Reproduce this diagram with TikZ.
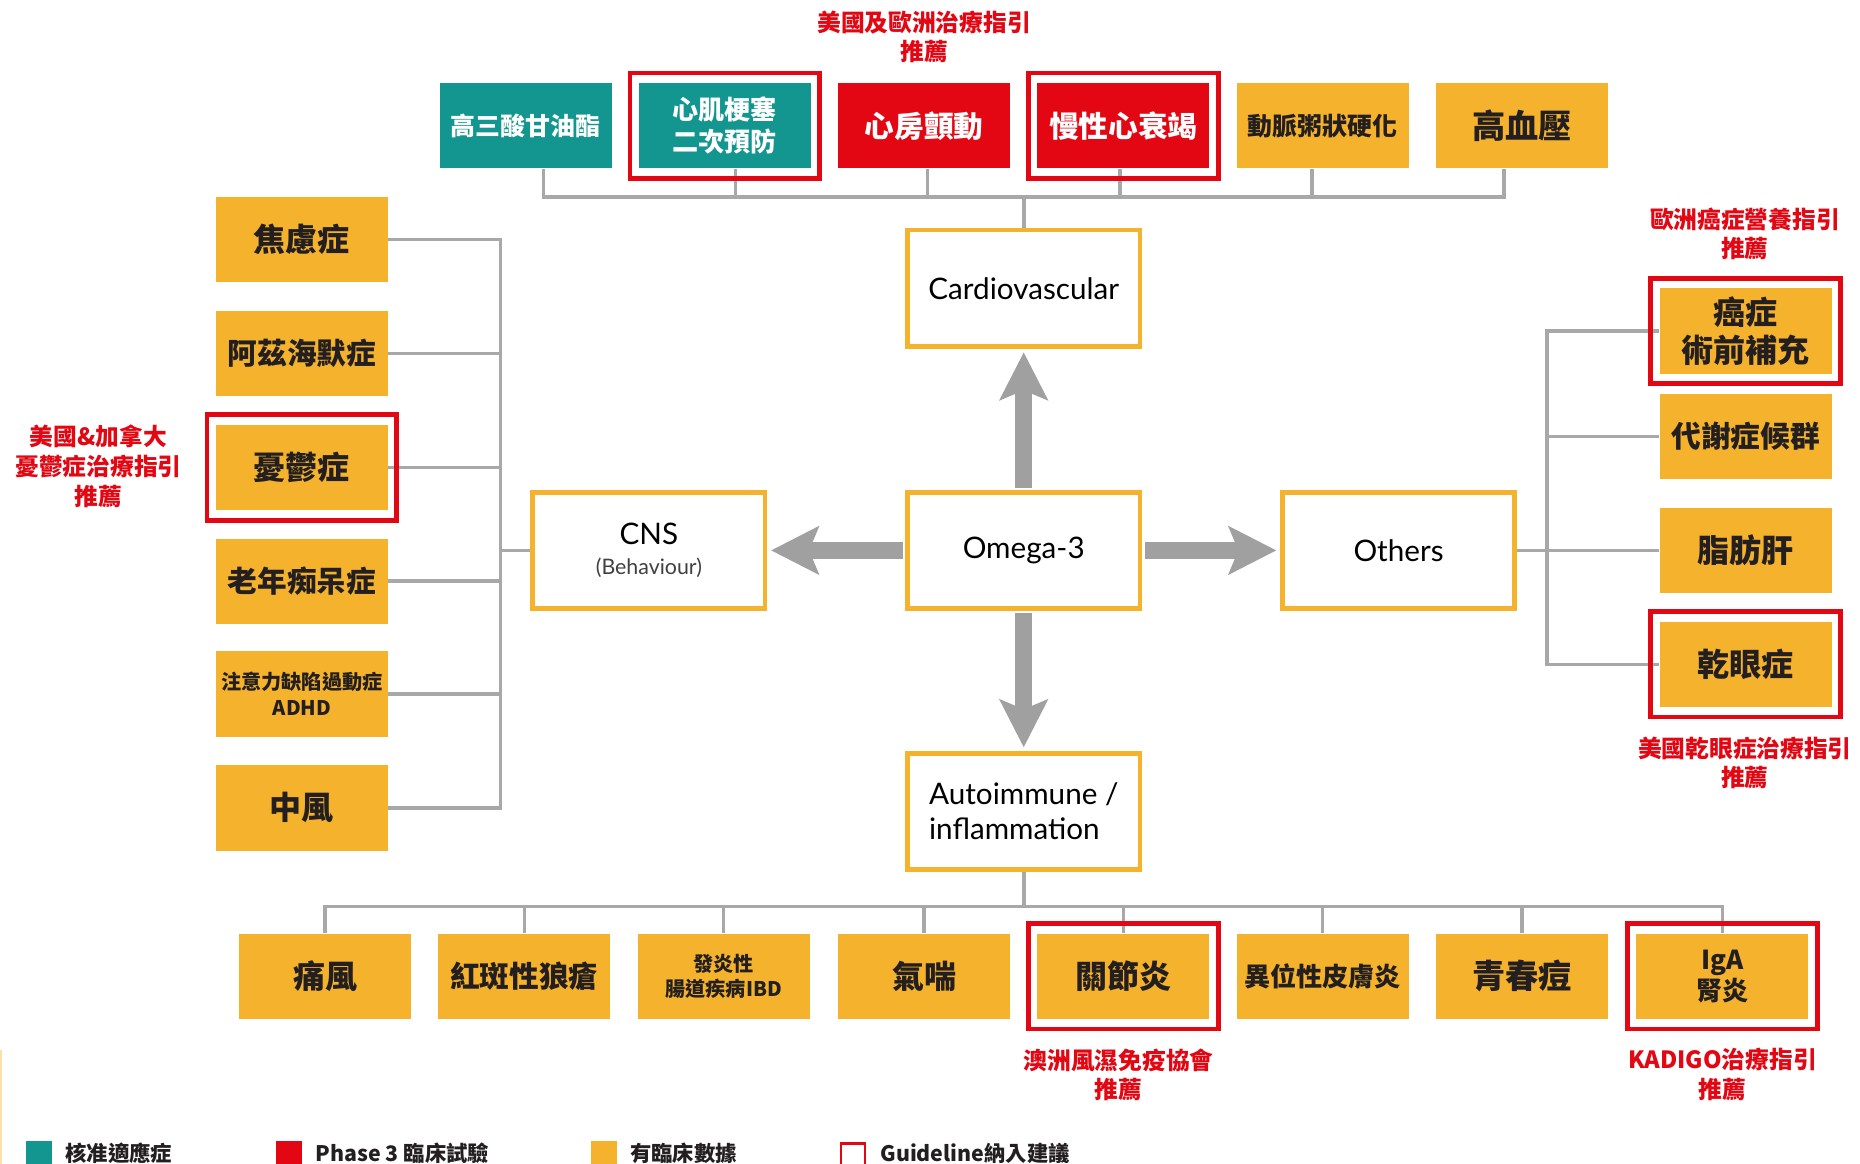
\documentclass[tikz,border=0pt]{standalone}
\usepackage{fontspec}
\setmainfont{Noto Sans CJK TC}
\newfontfamily\lat{Lato}
\usetikzlibrary{arrows.meta}
\definecolor{cOr}{HTML}{F5B22D}
\definecolor{cTeal}{HTML}{12968F}
\definecolor{cRed}{HTML}{E30613}
\definecolor{cGrey}{HTML}{A8A8A8}
\definecolor{aGrey}{HTML}{A0A0A0}
\definecolor{txt}{HTML}{231F20}
\newcommand\fs[2]{\fontsize{#1}{#2}\selectfont}
\tikzset{
  box/.style={minimum width=145pt, minimum height=72pt, inner sep=0pt, align=center},
  ob/.style={box, fill=cOr, text=txt},
  tbx/.style={box, fill=cTeal, text=white},
  rbx/.style={box, fill=cRed, text=white},
  hub/.style={draw=cOr, line width=4pt, fill=white, minimum width=196pt, minimum height=98pt, inner sep=0pt, align=center, text=black, font=\lat\fs{25}{30}},
  frame/.style={draw=cRed, line width=4pt, minimum width=160pt, minimum height=89pt, inner sep=0pt},
  conn/.style={draw=cGrey, line width=3pt},
  bigarrow/.style={draw=aGrey, line width=14pt, -{Stealth[width=40pt,length=40pt,inset=8pt]}},
  note/.style={text=cRed, align=center, inner sep=0pt, font=\bfseries\fs{20}{25}},
  lsq/.style={minimum width=22pt, minimum height=22pt, inner sep=0pt},
  ltxt/.style={anchor=west, inner sep=0pt, text=txt, font=\bfseries\fs{18}{20}}
}
\begin{document}
\begin{tikzpicture}[x=1pt,y=-1pt]
\path[fill=white] (0,0) rectangle (1568,981);
\useasboundingbox (0,0) rectangle (1568,981);

% top row
\node[tbx, font=\bfseries\fs{21}{25}] (t1) at (443,106) {高三酸甘油酯};
\node[tbx, font=\bfseries\fs{22}{27}] (t2) at (611,106) {心肌梗塞\\二次預防};
\node[rbx, font=\bfseries\fs{25}{30}] (t3) at (779,106) {心房顫動};
\node[rbx, font=\bfseries\fs{25}{30}] (t4) at (947,106) {慢性心衰竭};
\node[ob, font=\bfseries\fs{21}{25}] (t5) at (1115,106) {動脈粥狀硬化};
\node[ob, font=\bfseries\fs{28}{32}] (t6) at (1283,106) {高血壓};

% hubs
\node[hub] (cv) at (863,243) {Cardiovascular};
\node[hub] (om) at (863,464) {Omega-3};
\node[hub, font=\lat\fs{25}{25}] (cns) at (547,464) {CNS\\{\fs{18}{22}\color{black!75}(Behaviour)}};
\node[hub] (ot) at (1179,464) {Others};
\node[hub, align=left] (ai) at (863,684) {Autoimmune /\\inflammation};

% big arrows
\draw[bigarrow, shorten <=2pt, shorten >=3pt] (om.north) -- (cv.south);
\draw[bigarrow, shorten <=2pt, shorten >=3pt] (om.west) -- (cns.east);
\draw[bigarrow, shorten <=2pt, shorten >=3pt] (om.east) -- (ot.west);
\draw[bigarrow, shorten <=2pt, shorten >=3pt] (om.south) -- (ai.north);

% left column
\node[ob, font=\bfseries\fs{27}{30}] (l1) at (254.5,202) {焦慮症};
\node[ob, font=\bfseries\fs{25}{30}] (l2) at (254.5,298) {阿茲海默症};
\node[ob, font=\bfseries\fs{27}{30}] (l3) at (254.5,394) {憂鬱症};
\node[ob, font=\bfseries\fs{25}{30}] (l4) at (254.5,490) {老年痴呆症};
\node[ob, font=\bfseries\fs{17}{22}] (l5) at (254.5,585) {注意力缺陷過動症\\ADHD};
\node[ob, font=\bfseries\fs{27}{30}] (l6) at (254.5,681) {中風};

% right column
\node[ob, font=\bfseries\fs{27}{32}] (r1) at (1471.5,279) {癌症\\術前補充};
\node[ob, font=\bfseries\fs{25}{30}] (r2) at (1471.5,368) {代謝症候群};
\node[ob, font=\bfseries\fs{27}{30}] (r3) at (1471.5,464) {脂肪肝};
\node[ob, font=\bfseries\fs{27}{30}] (r4) at (1471.5,560) {乾眼症};

% bottom row
\node[ob, font=\bfseries\fs{27}{30}] (b1) at (274,823) {痛風};
\node[ob, font=\bfseries\fs{25}{30}] (b2) at (442,823) {紅斑性狼瘡};
\node[ob, font=\bfseries\fs{17}{21}] (b3) at (610,823) {發炎性\\腸道疾病IBD};
\node[ob, font=\bfseries\fs{27}{30}] (b4) at (779,823) {氣喘};
\node[ob, font=\bfseries\fs{27}{30}] (b5) at (947,823) {關節炎};
\node[ob, font=\bfseries\fs{22}{26}] (b6) at (1115,823) {異位性皮膚炎};
\node[ob, font=\bfseries\fs{28}{32}] (b7) at (1283,823) {青春痘};
\node[ob, font=\bfseries\fs{22}{26}] (b8) at (1452,823) {IgA\\腎炎};

% connectors top
\coordinate (tbus) at (863,166);
\draw[conn] ([xshift=15pt]t1.south) -- ++(0,24) -| ([xshift=-15pt]t6.south);
\draw[conn] ([xshift=9pt]t2.south) -- ([xshift=9pt]t2.south |- tbus);
\draw[conn] ([xshift=3pt]t3.south) -- ([xshift=3pt]t3.south |- tbus);
\draw[conn] ([xshift=-3pt]t4.south) -- ([xshift=-3pt]t4.south |- tbus);
\draw[conn] ([xshift=-9pt]t5.south) -- ([xshift=-9pt]t5.south |- tbus);
\draw[conn] (tbus) -- (cv.north);

% connectors left
\coordinate (lbus) at (422,464);
\draw[conn] (l1.east) -| (lbus |- l6.east) -- (l6.east);
\draw[conn] (l2.east) -- (lbus |- l2.east);
\draw[conn] (l3.east) -- (lbus |- l3.east);
\draw[conn] (l4.east) -- (lbus |- l4.east);
\draw[conn] (l5.east) -- (lbus |- l5.east);
\draw[conn] (lbus) -- (cns.west);

% connectors right
\coordinate (rbus) at (1304,464);
\draw[conn] (r1.west) -| (rbus |- r4.west) -- (r4.west);
\draw[conn] (r2.west) -- (rbus |- r2.west);
\draw[conn] (ot.east) -- (r3.west);

% connectors bottom
\coordinate (bbus) at (863,764);
\draw[conn] (b1.north) |- (bbus) -| (b8.north);
\draw[conn] (b2.north) -- (b2.north |- bbus);
\draw[conn] (b3.north) -- (b3.north |- bbus);
\draw[conn] (b4.north) -- (b4.north |- bbus);
\draw[conn] (b5.north) -- (b5.north |- bbus);
\draw[conn] (b6.north) -- (b6.north |- bbus);
\draw[conn] (b7.north) -- (b7.north |- bbus);
\draw[conn] (ai.south) -- (bbus);

% guideline frames
\node[frame] (f1) at (t2) {};
\node[frame] (f2) at (t4) {};
\node[frame] (f3) at (l3) {};
\node[frame] (f4) at (r1) {};
\node[frame] (f5) at (r4) {};
\node[frame] (f6) at (b5) {};
\node[frame] (f7) at (b8) {};

% notes
\node[note] (n1) at (779,31) {美國及歐洲治療指引\\推薦};
\node[note] (n2) at (83,393) {美國\&加拿大\\憂鬱症治療指引\\推薦};
\node[note] (n3) at (1471,197) {歐洲癌症營養指引\\推薦};
\node[note] (n4) at (1471,643) {美國乾眼症治療指引\\推薦};
\node[note] (n5) at (943,906) {澳洲風濕免疫協會\\推薦};
\node[note] (n6) at (1452,906) {KADIGO治療指引\\推薦};

% legend
\node[lsq, fill=cTeal] (k1) at (33,973) {};
\node[ltxt] (k1t) at (55,972) {核准適應症};
\node[lsq, fill=cRed] (k2) at (244,973) {};
\node[ltxt] (k2t) at (266,972) {Phase 3 臨床試驗};
\node[lsq, fill=cOr] (k3) at (509,973) {};
\node[ltxt] (k3t) at (531,972) {有臨床數據};
\node[lsq, draw=cRed, line width=2pt, minimum width=20pt, minimum height=20pt] (k4) at (719,974) {};
\node[ltxt] (k4t) at (742,972) {Guideline納入建議};

\draw[cOr!40, line width=2pt] (1,885) -- (1,981);
\end{tikzpicture}
\end{document}
